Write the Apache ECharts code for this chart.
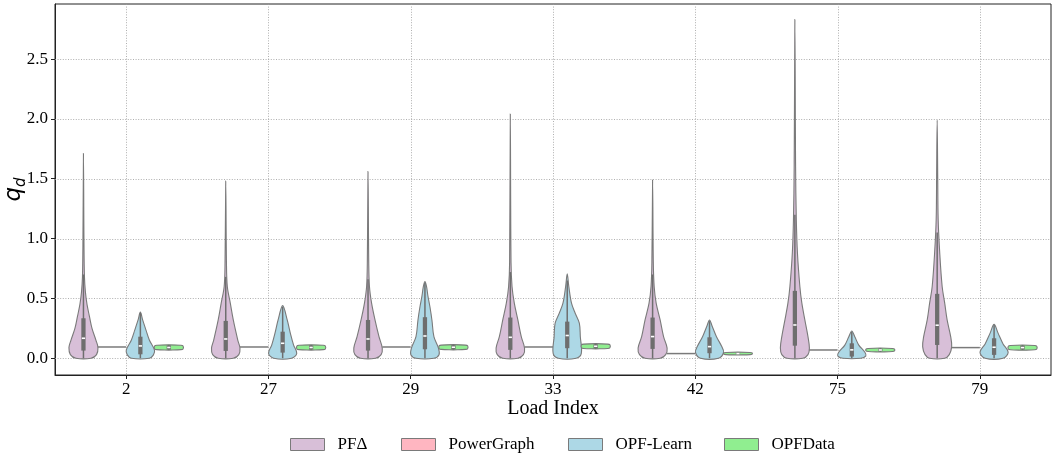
<!DOCTYPE html>
<html>
<head>
<meta charset="utf-8">
<script src="https://cdn.jsdelivr.net/npm/echarts@6/dist/echarts.min.js"></script>
<style>
  html, body { margin: 0; padding: 0; background: #fff; }
  #chart { width: 1052px; height: 460px; }
</style>
</head>
<body>
<div id="chart"></div>
<script>
// ---- data -------------------------------------------------------------
const loadIndex = ['2', '27', '29', '33', '42', '75', '79'];
const yTicks = [0, 0.5, 1.0, 1.5, 2.0, 2.5];

// Density outlines per load bus: [q_d value, relative half-width]
const pfDeltaProfile = [
  [[0, 0.53], [0.03, 0.92], [0.09, 1.02], [0.15, 0.88], [0.25, 0.6], [0.35, 0.42], [0.45, 0.25], [0.55, 0.14], [0.68, 0.07], [1.0, 0.035], [1.71, 0]],
  [[0, 0.53], [0.03, 0.92], [0.085, 1.0], [0.15, 0.85], [0.32, 0.53], [0.46, 0.32], [0.6, 0.11], [0.8, 0.05], [1.48, 0]],
  [[0, 0.53], [0.03, 0.92], [0.085, 1.0], [0.18, 0.77], [0.32, 0.49], [0.46, 0.25], [0.6, 0.1], [0.8, 0.05], [1.56, 0]],
  [[0, 0.53], [0.03, 0.92], [0.085, 1.0], [0.18, 0.77], [0.32, 0.53], [0.46, 0.28], [0.6, 0.12], [0.8, 0.05], [2.04, 0]],
  [[0, 0.53], [0.03, 0.92], [0.085, 1.02], [0.18, 0.77], [0.32, 0.53], [0.46, 0.25], [0.6, 0.11], [0.8, 0.05], [1.49, 0]],
  [[0, 0.56], [0.03, 0.92], [0.085, 1.02], [0.18, 0.92], [0.32, 0.7], [0.46, 0.49], [0.6, 0.35], [0.88, 0.18], [1.16, 0.1], [1.6, 0.05], [2.83, 0]],
  [[0, 0.53], [0.03, 0.85], [0.097, 1.02], [0.18, 0.95], [0.32, 0.7], [0.46, 0.53], [0.6, 0.35], [0.88, 0.18], [1.16, 0.07], [1.5, 0.04], [1.99, 0]]
];
// [whisker low, Q1, median, Q3, whisker high]
const pfDeltaBox = [
  [0, 0.064, 0.167, 0.334, 0.70],
  [0, 0.061, 0.161, 0.312, 0.68],
  [0, 0.064, 0.161, 0.32, 0.66],
  [0, 0.07, 0.175, 0.34, 0.72],
  [0, 0.078, 0.181, 0.34, 0.70],
  [0, 0.105, 0.278, 0.563, 1.2],
  [0, 0.111, 0.276, 0.538, 1.05]
];

// PowerGraph holds a single constant load per bus
const powerGraphValue = [0.094, 0.094, 0.094, 0.094, 0.039, 0.069, 0.089];

const opfLearnProfile = [
  [[0, 0.63], [0.028, 0.92], [0.069, 0.99], [0.153, 0.63], [0.237, 0.39], [0.32, 0.16], [0.385, 0]],
  [[0, 0.63], [0.04, 0.99], [0.11, 0.77], [0.2, 0.56], [0.32, 0.32], [0.44, 0]],
  [[0, 0.63], [0.03, 0.99], [0.084, 0.95], [0.18, 0.63], [0.32, 0.49], [0.43, 0.35], [0.52, 0.21], [0.6, 0.11], [0.64, 0]],
  [[0, 0.63], [0.04, 0.99], [0.18, 0.92], [0.293, 0.85], [0.376, 0.56], [0.46, 0.3], [0.6, 0.11], [0.705, 0]],
  [[0, 0.63], [0.05, 0.99], [0.1, 0.85], [0.18, 0.49], [0.27, 0.18], [0.32, 0]],
  [[0, 0.63], [0.02, 0.99], [0.05, 0.92], [0.11, 0.49], [0.18, 0.21], [0.228, 0]],
  [[0, 0.63], [0.05, 0.99], [0.12, 0.63], [0.21, 0.28], [0.284, 0]]
];
const opfLearnBox = [
  [0, 0.033, 0.103, 0.18, 0.38],
  [0, 0.047, 0.125, 0.222, 0.43],
  [0, 0.075, 0.186, 0.343, 0.63],
  [0, 0.084, 0.19, 0.306, 0.65],
  [0, 0.042, 0.097, 0.175, 0.31],
  [0, 0.014, 0.07, 0.125, 0.22],
  [0, 0.028, 0.092, 0.167, 0.28]
];

const opfDataProfile = [
  [[0.068, 0], [0.072, 0.85], [0.078, 1], [0.102, 1], [0.108, 0.85], [0.112, 0]],
  [[0.068, 0], [0.072, 0.85], [0.078, 1], [0.102, 1], [0.108, 0.85], [0.112, 0]],
  [[0.07, 0], [0.074, 0.85], [0.08, 1], [0.104, 1], [0.11, 0.85], [0.114, 0]],
  [[0.078, 0], [0.082, 0.85], [0.088, 1], [0.112, 1], [0.118, 0.85], [0.122, 0]],
  [[0.027, 0], [0.03, 0.85], [0.034, 1], [0.044, 1], [0.048, 0.85], [0.051, 0]],
  [[0.052, 0], [0.056, 0.85], [0.061, 1], [0.077, 1], [0.082, 0.85], [0.086, 0]],
  [[0.067, 0], [0.071, 0.85], [0.077, 1], [0.101, 1], [0.107, 0.85], [0.111, 0]]
];
const opfDataBox = [
  [0.07, 0.073, 0.09, 0.107, 0.11],
  [0.07, 0.073, 0.09, 0.107, 0.11],
  [0.072, 0.075, 0.092, 0.109, 0.112],
  [0.08, 0.083, 0.1, 0.117, 0.12],
  [0.029, 0.031, 0.039, 0.047, 0.049],
  [0.054, 0.057, 0.069, 0.081, 0.084],
  [0.069, 0.072, 0.089, 0.106, 0.109]
];

// ---- styling ----------------------------------------------------------
const SERIF = 'Liberation Serif';
const EDGE = '#7a7a7a';
const INNER = '#6e6e6e';
const colors = {
  'PFΔ': '#d8bfd8',
  'PowerGraph': '#ffb6c1',
  'OPF-Learn': '#add8e6',
  'OPFData': '#90ee90'
};
const dodge = [-0.3, -0.1, 0.1, 0.3];   // hue offsets within a category band
const halfWidthFrac = 0.1;              // widest half-violin as a share of the band

function violinRenderer(profiles, offset, fill) {
  return function (params, api) {
    const i = api.value(0);
    const band = api.size([1, 0])[0];
    const cx = api.coord([i, 0])[0] + offset * band;
    const maxHalf = halfWidthFrac * band;
    const prof = profiles[params.dataIndex];
    const right = prof.map(p => [cx + p[1] * maxHalf, api.coord([i, p[0]])[1]]);
    const left = prof.slice(0, -1).reverse().map(p => [cx - p[1] * maxHalf, api.coord([i, p[0]])[1]]);
    const pts = right.concat(left);
    const y = k => api.coord([i, api.value(k)])[1];
    const yLow = y(1), yQ1 = y(2), yMed = y(3), yQ3 = y(4), yHigh = y(5);
    const boxW = 0.03 * band;
    return {
      type: 'group',
      children: [
        { type: 'polygon', shape: { points: pts, smooth: 0.35 },
          style: { fill: fill, stroke: EDGE, lineWidth: 1.1 } },
        { type: 'line', shape: { x1: cx, y1: yLow, x2: cx, y2: yHigh },
          style: { stroke: INNER, lineWidth: 1.5 } },
        { type: 'rect', shape: { x: cx - boxW / 2, y: yQ3, width: boxW, height: Math.max(yQ1 - yQ3, 1) },
          style: { fill: INNER } },
        { type: 'rect', shape: { x: cx - boxW / 2 + 0.5, y: yMed - 0.8, width: boxW - 1, height: 1.6 },
          style: { fill: '#ffffff' } }
      ]
    };
  };
}

function constantRenderer(offset) {
  return function (params, api) {
    const i = api.value(0);
    const band = api.size([1, 0])[0];
    const cx = api.coord([i, 0])[0] + offset * band;
    const maxHalf = halfWidthFrac * band;
    const yv = api.coord([i, api.value(1)])[1];
    return {
      type: 'line',
      shape: { x1: cx - maxHalf, y1: yv, x2: cx + maxHalf, y2: yv },
      style: { stroke: EDGE, lineWidth: 1.5 }
    };
  };
}

function gridRenderer(params, api) {
  const cs = params.coordSys;
  const children = [];
  yTicks.forEach(t => {
    const yy = Math.round(api.coord([0, t])[1]) + 0.5;
    children.push({ type: 'line', shape: { x1: cs.x, y1: yy, x2: cs.x + cs.width, y2: yy },
      style: { stroke: '#9a9a9a', lineWidth: 0.8, lineDash: [1, 1.6] } });
  });
  loadIndex.forEach((c, i) => {
    const xx = Math.round(api.coord([i, 0])[0]) + 0.5;
    children.push({ type: 'line', shape: { x1: xx, y1: cs.y, x2: xx, y2: cs.y + cs.height },
      style: { stroke: '#9a9a9a', lineWidth: 0.8, lineDash: [1, 1.6] } });
  });
  return { type: 'group', children: children };
}

const withIndex = arr => arr.map((b, i) => [i].concat(b));

const chart = echarts.init(document.getElementById('chart'), null, { renderer: 'canvas' });

const legendPos = [290, 401, 568, 724];
const names = ['PFΔ', 'PowerGraph', 'OPF-Learn', 'OPFData'];

chart.setOption({
  animation: false,
  backgroundColor: '#ffffff',
  grid: { left: 55, right: 1, top: 4, bottom: 85, show: true, borderColor: '#222', borderWidth: 1,
          containLabel: false, outerBoundsMode: 'none' },
  legend: names.map((n, k) => ({
    data: [n],
    left: legendPos[k],
    top: 436,
    padding: 0,
    icon: 'rect',
    itemWidth: 34,
    itemHeight: 12,
    selectedMode: false,
    itemStyle: { borderColor: EDGE, borderWidth: 1 },
    textStyle: { fontFamily: SERIF, fontSize: 17, color: '#000', padding: [0, 0, 0, 8] }
  })),
  xAxis: {
    type: 'category',
    data: loadIndex,
    boundaryGap: true,
    axisLine: { show: true, onZero: false, lineStyle: { color: '#222', width: 1 } },
    axisTick: { show: true, alignWithLabel: true, length: 4, lineStyle: { color: '#222' } },
    axisLabel: { fontFamily: SERIF, fontSize: 17, color: '#000', margin: 6 },
    splitLine: { show: false },
    name: 'Load Index',
    nameLocation: 'middle',
    nameGap: 24,
    nameMoveOverlap: false,
    nameTextStyle: { fontFamily: SERIF, fontSize: 20, color: '#000' }
  },
  yAxis: {
    type: 'value',
    min: -0.14,
    max: 2.96,
    axisLine: { show: true, lineStyle: { color: '#222', width: 1 } },
    axisTick: { show: true, customValues: yTicks, length: 4, lineStyle: { color: '#222' } },
    axisLabel: { customValues: yTicks, formatter: v => Number(v).toFixed(1),
      fontFamily: SERIF, fontSize: 17, color: '#000', margin: 7 },
    splitLine: { show: false },
    name: '{q|q}{d|d}',
    nameLocation: 'middle',
    nameGap: 26,
    nameMoveOverlap: false,
    nameRotate: 90,
    nameTextStyle: {
      rich: {
        q: { fontFamily: 'DejaVu Sans', fontStyle: 'italic', fontSize: 23, color: '#000', verticalAlign: 'top', lineHeight: 26 },
        d: { fontFamily: 'DejaVu Sans', fontStyle: 'italic', fontSize: 15, color: '#000', verticalAlign: 'bottom', lineHeight: 15 }
      }
    }
  },
  series: [
    { type: 'custom', name: '_grid', silent: true, z: 1, data: [[0, 0]], renderItem: gridRenderer },
    { type: 'custom', name: 'PFΔ', z: 3, itemStyle: { color: colors['PFΔ'] },
      encode: { x: 0, y: [1, 2, 3, 4, 5] },
      data: withIndex(pfDeltaBox), renderItem: violinRenderer(pfDeltaProfile, dodge[0], colors['PFΔ']) },
    { type: 'custom', name: 'PowerGraph', z: 3, itemStyle: { color: colors['PowerGraph'] },
      encode: { x: 0, y: 1 },
      data: powerGraphValue.map((v, i) => [i, v]), renderItem: constantRenderer(dodge[1]) },
    { type: 'custom', name: 'OPF-Learn', z: 3, itemStyle: { color: colors['OPF-Learn'] },
      encode: { x: 0, y: [1, 2, 3, 4, 5] },
      data: withIndex(opfLearnBox), renderItem: violinRenderer(opfLearnProfile, dodge[2], colors['OPF-Learn']) },
    { type: 'custom', name: 'OPFData', z: 3, itemStyle: { color: colors['OPFData'] },
      encode: { x: 0, y: [1, 2, 3, 4, 5] },
      data: withIndex(opfDataBox), renderItem: violinRenderer(opfDataProfile, dodge[3], colors['OPFData']) }
  ]
});
</script>
</body>
</html>
